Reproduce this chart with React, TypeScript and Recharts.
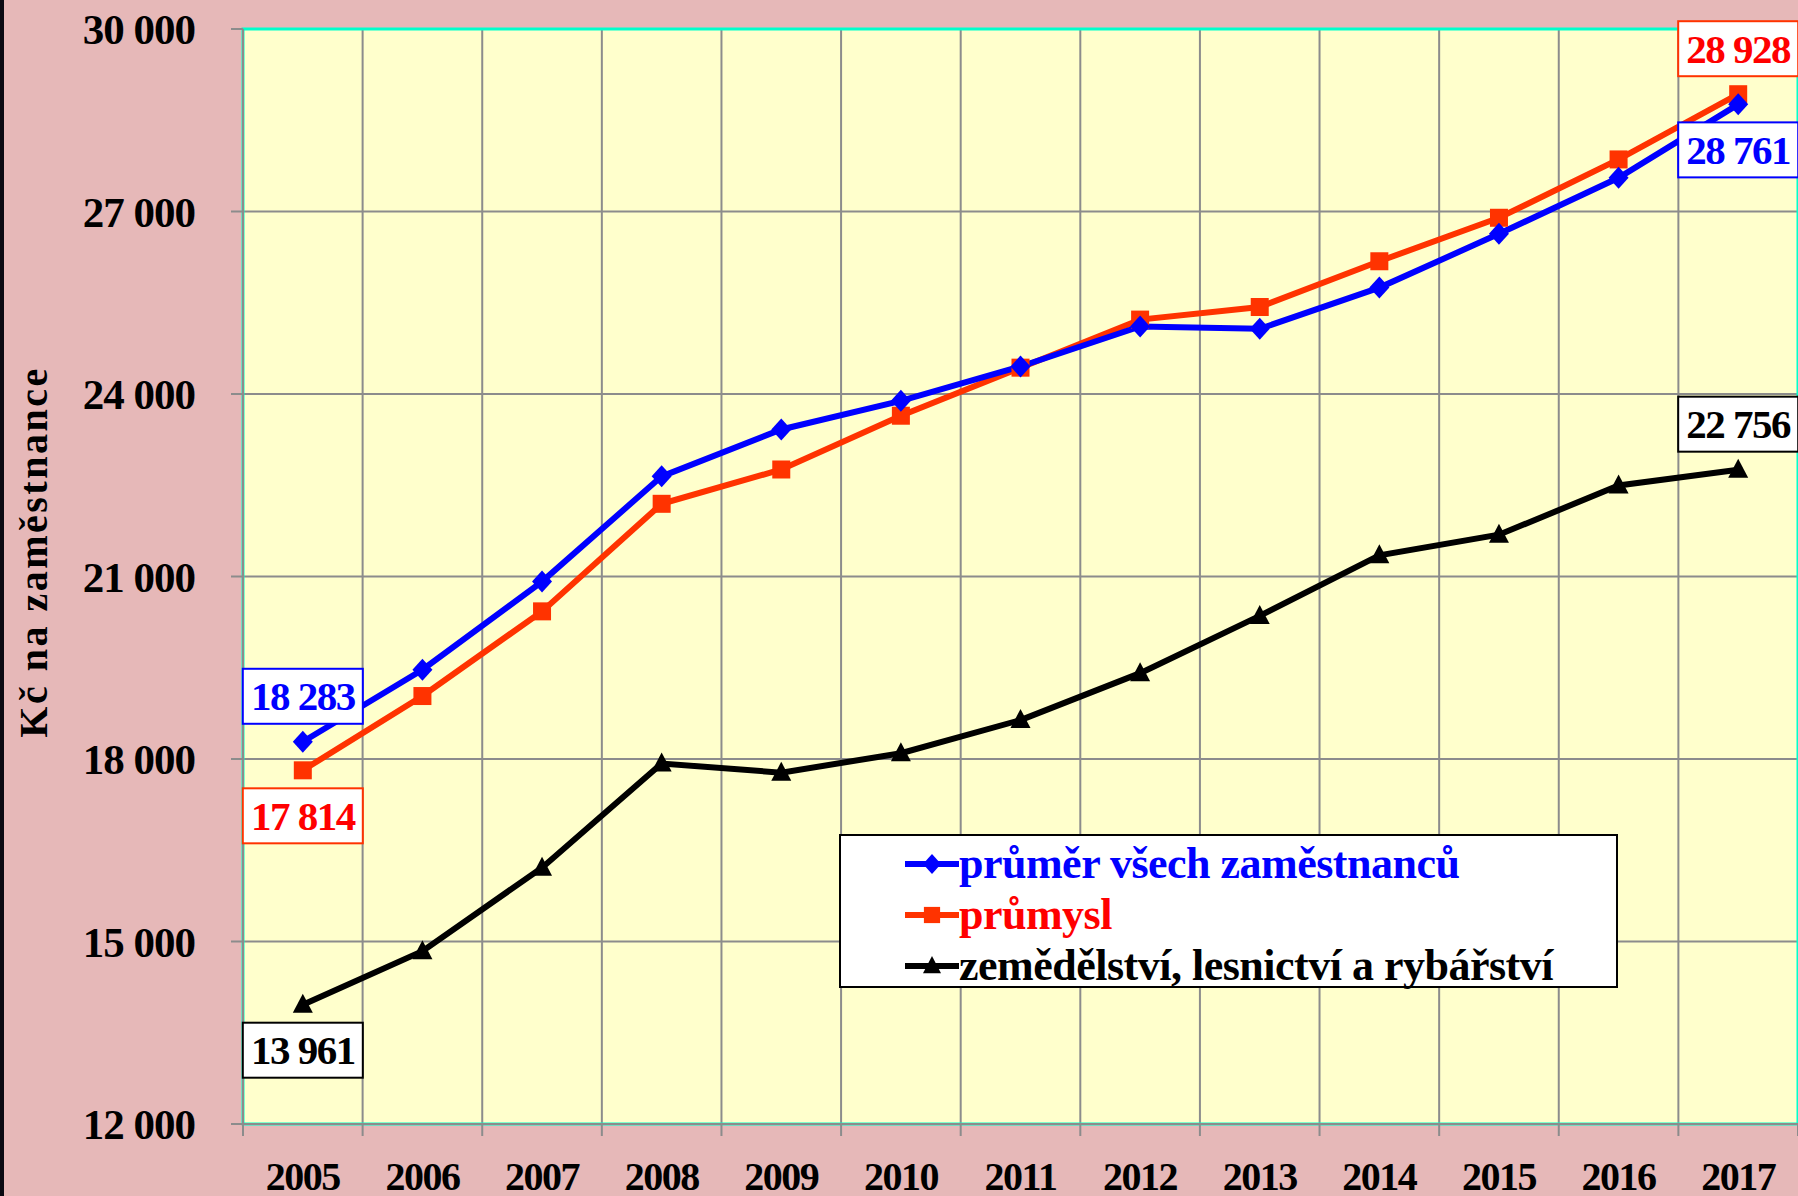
import React from "react";
import {
  LineChart,
  Line,
  XAxis,
  YAxis,
  CartesianGrid,
  ReferenceArea,
  LabelList,
  Legend,
} from "recharts";

// years on the category axis
const years = [
  "2005", "2006", "2007", "2008", "2009", "2010", "2011",
  "2012", "2013", "2014", "2015", "2016", "2017",
];

// Kč na zaměstnance
const prumerVsech = [
  18283, 19468, 20916, 22646, 23417, 23887, 24452,
  25110, 25072, 25749, 26633, 27555, 28761,
];
const prumysl = [
  17814, 19035, 20427, 22195, 22759, 23643, 24433,
  25223, 25430, 26182, 26897, 27856, 28928,
];
const zemedelstvi = [
  13961, 14841, 16214, 17926, 17775, 18095, 18640,
  19411, 20352, 21349, 21687, 22496, 22756,
];

const yTicks = [12000, 15000, 18000, 21000, 24000, 27000, 30000];

const seriesNames = [
  "průměr všech zaměstnanců",
  "průmysl",
  "zemědělství, lesnictví a rybářství",
];

const data = years.map((year, i) => ({
  year,
  prumer: prumerVsech[i],
  prumysl: prumysl[i],
  zemedelstvi: zemedelstvi[i],
}));

const FONT = "'Liberation Serif', 'Times New Roman', serif";
const BLUE = "#0000FF";
const RED_LINE = "#FF3300";
const RED_TEXT = "#FF0000";
const BLACK = "#000000";
const GRID = "#8C8C8C";

const fmt = (v: number) => String(v).replace(/\B(?=(\d{3})+(?!\d))/g, " ");

type MarkerKind = "diamond" | "square" | "triangle";

function markerShape(kind: MarkerKind, cx: number, cy: number, color: string, s = 1) {
  if (kind === "diamond") {
    return (
      <polygon
        points={`${cx},${cy - 11 * s} ${cx + 10 * s},${cy} ${cx},${cy + 11 * s} ${cx - 10 * s},${cy}`}
        fill={color}
      />
    );
  }
  if (kind === "square") {
    return <rect x={cx - 9 * s} y={cy - 9 * s} width={18 * s} height={18 * s} fill={color} />;
  }
  return (
    <polygon
      points={`${cx},${cy - 11 * s} ${cx + 10 * s},${cy + 8 * s} ${cx - 10 * s},${cy + 8 * s}`}
      fill={color}
    />
  );
}

function makeDot(kind: MarkerKind, color: string) {
  return (props: any) => {
    const { cx, cy, index } = props;
    if (cx == null || cy == null) return <g key={`m-${kind}-${index}`} />;
    return <g key={`m-${kind}-${index}`}>{markerShape(kind, cx, cy, color)}</g>;
  };
}

// boxed value labels on the first and last point of each series
function makeValueBox(
  values: number[],
  border: string,
  textColor: string,
  firstPos: "above" | "below",
  lastPos: "above" | "below",
) {
  return (props: any) => {
    const { x, y, value } = props;
    const isFirst = value === values[0];
    const isLast = value === values[values.length - 1];
    if (!isFirst && !isLast) return null;
    const pos = isFirst ? firstPos : lastPos;
    const w = 120;
    const h = 55;
    const gap = 18;
    const top = pos === "above" ? y - gap - h : y + gap;
    return (
      <g>
        <rect x={x - w / 2} y={top} width={w} height={h} fill="#FFFFFF" stroke={border} strokeWidth={2} />
        <text
          x={x}
          y={top + h / 2 + 14}
          textAnchor="middle"
          fill={textColor}
          fontFamily={FONT}
          fontWeight="bold"
          fontSize={41}
          letterSpacing={-1.5}
        >
          {fmt(value)}
        </text>
      </g>
    );
  };
}

// vertical grid lines on the borders between the year bands
function bandBorders({ offset }: any) {
  const step = offset.width / years.length;
  return [...years.map((_, i) => offset.left + i * step), offset.left + offset.width];
}

const TICK_SIZE = 12;
const TICK_MARGIN = 26;

function YearTick(props: any) {
  const { x, y, payload, width, visibleTicksCount, index } = props;
  const half = width / visibleTicksCount / 2;
  const axisY = y - TICK_SIZE - TICK_MARGIN;
  return (
    <g>
      <line x1={x - half} x2={x - half} y1={axisY} y2={axisY + TICK_SIZE} stroke={GRID} strokeWidth={2} />
      {index === visibleTicksCount - 1 && (
        <line x1={x + half} x2={x + half} y1={axisY} y2={axisY + TICK_SIZE} stroke={GRID} strokeWidth={2} />
      )}
      <text
        x={x}
        y={y + 28}
        textAnchor="middle"
        fill="#000"
        fontFamily={FONT}
        fontWeight="bold"
        fontSize={40}
        letterSpacing={-1.5}
      >
        {payload.value}
      </text>
    </g>
  );
}

function AxisTitle() {
  return (
    <text
      x={47}
      y={552}
      transform="rotate(-90 47 552)"
      textAnchor="middle"
      fill="#000"
      fontFamily={FONT}
      fontWeight="bold"
      fontSize={40}
      letterSpacing={2.5}
    >
      Kč na zaměstnance
    </text>
  );
}

const legendRows: { name: string; color: string; text: string; kind: MarkerKind }[] = [
  { name: seriesNames[0], color: BLUE, text: BLUE, kind: "diamond" },
  { name: seriesNames[1], color: RED_LINE, text: RED_TEXT, kind: "square" },
  { name: seriesNames[2], color: BLACK, text: BLACK, kind: "triangle" },
];

function LegendBox() {
  return (
    <div
      style={{
        boxSizing: "border-box",
        width: 779,
        height: 154,
        background: "#FFFFFF",
        border: "2px solid #000",
        paddingLeft: 64,
        paddingTop: 2,
      }}
    >
      {legendRows.map((r) => (
        <div key={r.name} style={{ display: "flex", alignItems: "center", height: 51 }}>
          <svg width={54} height={26} style={{ flex: "none" }}>
            <line x1={0} x2={54} y1={13} y2={13} stroke={r.color} strokeWidth={6} />
            {markerShape(r.kind, 27, 13, r.color, 0.9)}
          </svg>
          <span
            style={{
              color: r.text,
              fontFamily: FONT,
              fontWeight: "bold",
              fontSize: 44,
              letterSpacing: -0.5,
              whiteSpace: "nowrap",
              lineHeight: 1,
            }}
          >
            {r.name}
          </span>
        </div>
      ))}
    </div>
  );
}

export default function App() {
  return (
    <div
      style={{
        position: "absolute",
        left: 0,
        top: 0,
        width: 1798,
        height: 1196,
        background: "#E6B8B8",
        overflow: "hidden",
      }}
    >
      <div style={{ position: "absolute", left: 0, top: 0, width: 4, height: 1196, background: "#0A0A12" }} />
      <LineChart width={1798} height={1196} data={data} margin={{ top: 29, right: 0, bottom: 0, left: 0 }}>
        <CartesianGrid
          fill="#FFFFCC"
          stroke={GRID}
          strokeWidth={2}
          verticalCoordinatesGenerator={bandBorders}
        />
        <ReferenceArea
          y1={12000}
          y2={30000}
          fill="none"
          fillOpacity={0}
          stroke="#00FFCC"
          strokeWidth={3}
        />
        <XAxis
          dataKey="year"
          scale="band"
          height={72}
          interval={0}
          tickLine={false}
          tickSize={TICK_SIZE}
          tickMargin={TICK_MARGIN}
          axisLine={{ stroke: GRID, strokeWidth: 2 }}
          tick={<YearTick />}
        />
        <YAxis
          width={243}
          domain={[12000, 30000]}
          ticks={yTicks}
          interval={0}
          allowDataOverflow
          tickSize={12}
          tickMargin={36}
          tickLine={{ stroke: GRID, strokeWidth: 2 }}
          axisLine={{ stroke: GRID, strokeWidth: 2 }}
          tickFormatter={fmt}
          tick={{ fill: "#000", fontFamily: FONT, fontWeight: "bold", fontSize: 43, letterSpacing: -1 }}
          label={<AxisTitle />}
        />
        <Legend
          layout="vertical"
          align="center"
          verticalAlign="middle"
          wrapperStyle={{ left: 839, top: 834, width: 779, height: 154 }}
          content={() => <LegendBox />}
        />
        <Line
          dataKey="zemedelstvi"
          name={seriesNames[2]}
          stroke={BLACK}
          strokeWidth={6}
          dot={makeDot("triangle", BLACK)}
          activeDot={false}
          isAnimationActive={false}
        >
          <LabelList dataKey="zemedelstvi" content={makeValueBox(zemedelstvi, BLACK, BLACK, "below", "above")} />
        </Line>
        <Line
          dataKey="prumysl"
          name={seriesNames[1]}
          stroke={RED_LINE}
          strokeWidth={6}
          dot={makeDot("square", RED_LINE)}
          activeDot={false}
          isAnimationActive={false}
        >
          <LabelList dataKey="prumysl" content={makeValueBox(prumysl, RED_LINE, RED_TEXT, "below", "above")} />
        </Line>
        <Line
          dataKey="prumer"
          name={seriesNames[0]}
          stroke={BLUE}
          strokeWidth={6}
          dot={makeDot("diamond", BLUE)}
          activeDot={false}
          isAnimationActive={false}
        >
          <LabelList dataKey="prumer" content={makeValueBox(prumerVsech, BLUE, BLUE, "above", "below")} />
        </Line>
      </LineChart>
    </div>
  );
}
